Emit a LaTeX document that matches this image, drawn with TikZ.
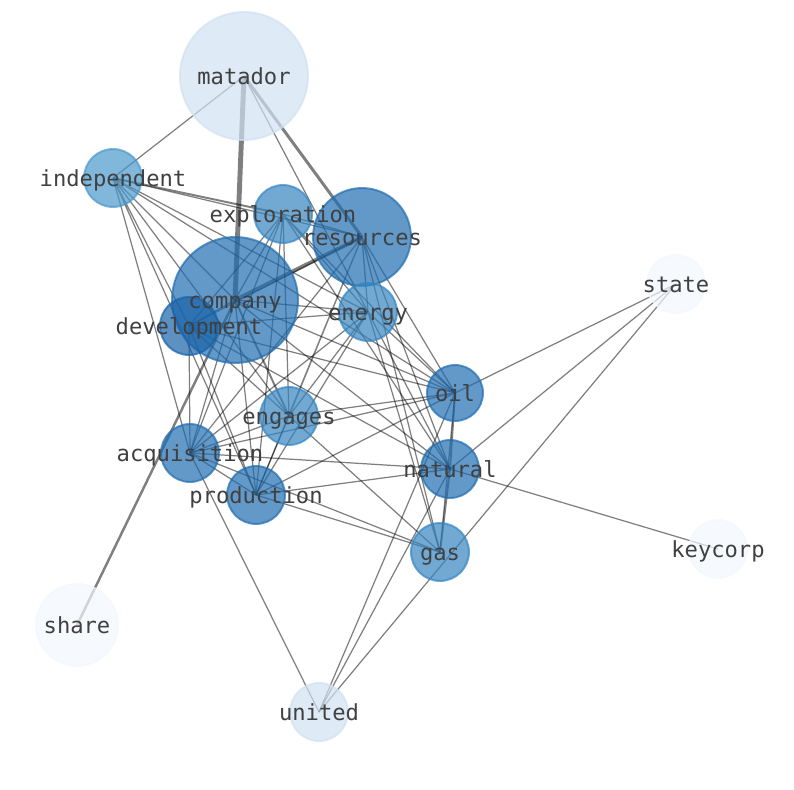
\documentclass[tikz,border=0pt]{standalone}
\usepackage{fontspec}
\setmonofont{DejaVu Sans Mono}
\definecolor{bl9}{HTML}{F2F7FD}
\definecolor{bl8}{HTML}{D0E1F2}
\definecolor{bl5}{HTML}{4A98CB}
\definecolor{bl4}{HTML}{3585C1}
\definecolor{bl3}{HTML}{1F6DB0}
\definecolor{bl2}{HTML}{1862A8}
\pgfdeclarelayer{edges}
\pgfdeclarelayer{words}
\pgfsetlayers{edges,main,words}
\begin{document}
\begin{tikzpicture}[x=0.02cm,y=-0.02cm,line cap=round,
	bub/.style={circle,inner sep=0pt,minimum size=#1*0.04cm,line width=1.1pt,fill opacity=0.7,draw opacity=0.7},
	tone/.style={fill=#1,draw=#1},
	lnk/.style={draw=black,opacity=0.5,line width=0.7pt},
	word/.style={font=\ttfamily\fontsize{12.6}{15}\selectfont,text=black!75,anchor=base,yshift=-0.17cm}]
	\useasboundingbox (0,0) rectangle (794,790);
	% circles
	\node[bub=64,tone=bl8] (mat) at (244,76) {};
	\node[bub=29,tone=bl5] (ind) at (113,178) {};
	\node[bub=29,tone=bl4] (exp) at (283,214) {};
	\node[bub=49,tone=bl3] (res) at (362,237) {};
	\node[bub=29,tone=bl9] (sta) at (676,284) {};
	\node[bub=63,tone=bl3] (com) at (235,300) {};
	\node[bub=29,tone=bl2] (dev) at (189,326) {};
	\node[bub=29,tone=bl4] (ene) at (368,312) {};
	\node[bub=28,tone=bl3] (oil) at (455,393) {};
	\node[bub=29,tone=bl4] (eng) at (289,416) {};
	\node[bub=29,tone=bl3] (acq) at (190,453) {};
	\node[bub=29,tone=bl3] (nat) at (450,469) {};
	\node[bub=29,tone=bl3] (pro) at (256,495) {};
	\node[bub=29,tone=bl4] (gas) at (440,552) {};
	\node[bub=29,tone=bl9] (key) at (718,549) {};
	\node[bub=41,tone=bl9] (sha) at (77,625) {};
	\node[bub=29,tone=bl8] (uni) at (319,712) {};
	% links
	\begin{pgfonlayer}{edges}
		\draw[lnk,line width=2.8pt] (mat.center) -- (com.center);
		\draw[lnk,line width=1.7pt] (mat.center) -- (res.center);
		\draw[lnk,line width=2.2pt] (res.center) -- (com.center);
		\draw[lnk,line width=1.4pt] (sha.center) -- (com.center);
		\draw[lnk,line width=1.1pt] (ind.center) -- (exp.center) (com.center) -- (eng.center) (oil.center) -- (nat.center) (nat.center) -- (gas.center);
		\draw[lnk] (mat.center) -- (ind.center) (mat.center) -- (ene.center);
		\draw[lnk] (ind.center) -- (res.center) (ind.center) -- (ene.center) (ind.center) -- (com.center) (ind.center) -- (dev.center) (ind.center) -- (eng.center) (ind.center) -- (acq.center) (ind.center) -- (pro.center) (ind.center) -- (oil.center);
		\draw[lnk] (exp.center) -- (com.center) (exp.center) -- (dev.center) (exp.center) -- (res.center) (exp.center) -- (ene.center) (exp.center) -- (eng.center) (exp.center) -- (acq.center) (exp.center) -- (pro.center) (exp.center) -- (oil.center) (exp.center) -- (nat.center);
		\draw[lnk] (res.center) -- (dev.center) (res.center) -- (ene.center) (res.center) -- (eng.center) (res.center) -- (acq.center) (res.center) -- (pro.center) (res.center) -- (oil.center) (res.center) -- (nat.center) (res.center) -- (gas.center);
		\draw[lnk] (com.center) -- (ene.center) (com.center) -- (dev.center) (com.center) -- (acq.center) (com.center) -- (pro.center) (com.center) -- (oil.center) (com.center) -- (nat.center);
		\draw[lnk] (dev.center) -- (ene.center) (dev.center) -- (eng.center) (dev.center) -- (acq.center) (dev.center) -- (pro.center) (dev.center) -- (oil.center) (dev.center) -- (nat.center);
		\draw[lnk] (ene.center) -- (eng.center) (ene.center) -- (acq.center) (ene.center) -- (pro.center) (ene.center) -- (oil.center) (ene.center) -- (nat.center) (ene.center) -- (gas.center);
		\draw[lnk] (oil.center) -- (sta.center) (oil.center) -- (eng.center) (oil.center) -- (acq.center) (oil.center) -- (pro.center) (oil.center) -- (gas.center) (oil.center) -- (uni.center);
		\draw[lnk] (nat.center) -- (sta.center) (nat.center) -- (key.center) (nat.center) -- (acq.center) (nat.center) -- (pro.center) (nat.center) -- (uni.center);
		\draw[lnk] (eng.center) -- (acq.center) (eng.center) -- (pro.center) (eng.center) -- (gas.center);
		\draw[lnk] (acq.center) -- (pro.center) (acq.center) -- (gas.center) (acq.center) -- (uni.center);
		\draw[lnk] (pro.center) -- (gas.center) (sta.center) -- (uni.center);
	\end{pgfonlayer}
	% labels
	\begin{pgfonlayer}{words}
		\node[word] at (mat) {matador};
		\node[word] at (ind) {independent};
		\node[word] at (exp) {exploration};
		\node[word] at (res) {resources};
		\node[word] at (sta) {state};
		\node[word] at (com) {company};
		\node[word] at (dev) {development};
		\node[word] at (ene) {energy};
		\node[word] at (oil) {oil};
		\node[word] at (eng) {engages};
		\node[word] at (acq) {acquisition};
		\node[word] at (nat) {natural};
		\node[word] at (pro) {production};
		\node[word] at (gas) {gas};
		\node[word] at (key) {keycorp};
		\node[word] at (sha) {share};
		\node[word] at (uni) {united};
	\end{pgfonlayer}
\end{tikzpicture}
\end{document}
